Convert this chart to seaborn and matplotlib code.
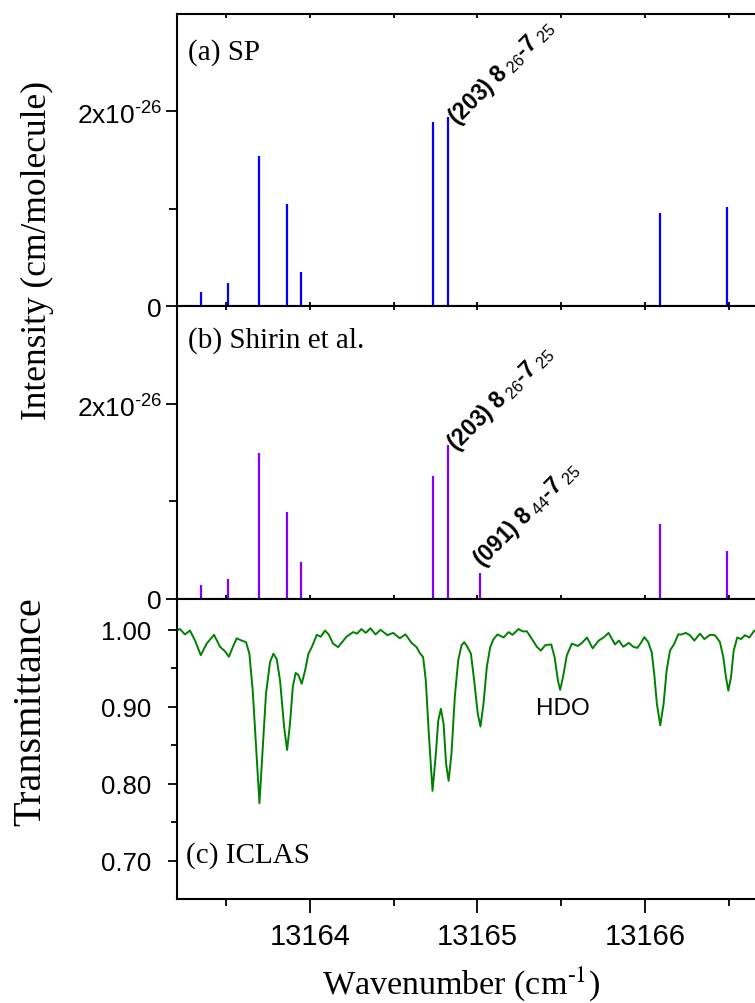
import numpy as np
import pandas as pd
import matplotlib
matplotlib.use("Agg")
import matplotlib.pyplot as plt
import seaborn as sns
from matplotlib.ticker import FixedLocator, FixedFormatter, MultipleLocator, FormatStrFormatter

# ---------------- data ----------------
# (a) SP calculated line list (intensity in units of 1e-26 cm/molecule)
sp_pos = [13163.350, 13163.510, 13163.700, 13163.865, 13163.950,
          13164.736, 13164.827, 13165.014, 13166.088, 13166.490]
sp_int = [0.144, 0.237, 1.544, 1.053, 0.350, 1.894, 1.945, 0.010, 0.963, 1.019]

# (b) Shirin et al. line list
sh_pos = [13163.350, 13163.510, 13163.700, 13163.865, 13163.950,
          13164.736, 13164.827, 13165.014, 13166.088, 13166.490]
sh_int = [0.140, 0.210, 1.496, 0.893, 0.384, 1.257, 1.578, 0.271, 0.770, 0.487]

# (c) ICLAS transmittance spectrum
iclas_wn = [13163.206, 13163.226, 13163.256, 13163.286, 13163.316, 13163.350, 13163.385,
            13163.429, 13163.465, 13163.495, 13163.518, 13163.541, 13163.564, 13163.594,
            13163.620, 13163.640, 13163.660, 13163.680, 13163.700, 13163.720, 13163.739,
            13163.763, 13163.783, 13163.803, 13163.823, 13163.847, 13163.865, 13163.882,
            13163.899, 13163.916, 13163.933, 13163.952, 13163.972, 13163.992, 13164.012,
            13164.042, 13164.066, 13164.091, 13164.113, 13164.139, 13164.169, 13164.193,
            13164.219, 13164.258, 13164.282, 13164.308, 13164.334, 13164.362, 13164.392,
            13164.422, 13164.464, 13164.497, 13164.537, 13164.571, 13164.607, 13164.637,
            13164.656, 13164.676, 13164.692, 13164.710, 13164.732, 13164.752, 13164.766,
            13164.782, 13164.798, 13164.813, 13164.828, 13164.845, 13164.865, 13164.885,
            13164.905, 13164.921, 13164.941, 13164.961, 13164.980, 13165.002, 13165.018,
            13165.036, 13165.056, 13165.076, 13165.096, 13165.120, 13165.156, 13165.186,
            13165.209, 13165.245, 13165.269, 13165.295, 13165.325, 13165.354, 13165.378,
            13165.404, 13165.440, 13165.460, 13165.480, 13165.493, 13165.510, 13165.533,
            13165.563, 13165.599, 13165.623, 13165.653, 13165.687, 13165.723, 13165.752,
            13165.782, 13165.802, 13165.820, 13165.844, 13165.869, 13165.903, 13165.929,
            13165.953, 13165.975, 13165.995, 13166.018, 13166.039, 13166.054, 13166.070,
            13166.090, 13166.110, 13166.128, 13166.148, 13166.174, 13166.197, 13166.218,
            13166.242, 13166.267, 13166.293, 13166.327, 13166.353, 13166.387, 13166.416,
            13166.446, 13166.466, 13166.482, 13166.496, 13166.512, 13166.528, 13166.549,
            13166.572, 13166.595, 13166.621, 13166.651]
iclas_tr = [0.999, 1.001, 0.994, 0.999, 0.986, 0.967, 0.982,
            0.9935, 0.978, 0.972, 0.965, 0.9775, 0.989, 0.986,
            0.984, 0.969, 0.921, 0.848, 0.775, 0.848, 0.917,
            0.958, 0.969, 0.962, 0.934, 0.874, 0.844, 0.878,
            0.926, 0.944, 0.941, 0.930, 0.947, 0.969, 0.9775,
            0.9935, 0.991, 0.999, 0.994, 0.982, 0.9775, 0.984,
            0.991, 0.997, 0.995, 1.001, 0.996, 1.002, 0.994,
            1.000, 0.993, 0.996, 0.989, 0.994, 0.983, 0.9775,
            0.970, 0.9645, 0.934, 0.865, 0.791, 0.839, 0.882,
            0.8975, 0.878, 0.826, 0.804, 0.839, 0.913, 0.960,
            0.980, 0.984, 0.9775, 0.969, 0.935, 0.891, 0.8745,
            0.904, 0.952, 0.9775, 0.988, 0.994, 0.990, 0.997,
            0.9935, 1.001, 0.998, 0.998, 0.988, 0.978, 0.973,
            0.980, 0.981, 0.9645, 0.934, 0.922, 0.9385, 0.967,
            0.982, 0.979, 0.983, 0.990, 0.976, 0.986, 0.990,
            0.996, 0.988, 0.981, 0.986, 0.978, 0.983, 0.978,
            0.9765, 0.983, 0.9905, 0.984, 0.971, 0.943, 0.904,
            0.876, 0.904, 0.947, 0.973, 0.982, 0.994, 0.994,
            0.996, 0.993, 0.986, 0.995, 0.988, 0.9935, 0.993,
            0.984, 0.9645, 0.9385, 0.921, 0.9385, 0.973, 0.990,
            0.988, 0.993, 0.990, 0.999]

xlim = (13163.21, 13166.80)
int_ylim = (0, 3)
int_major = [0, 2]
int_labels = ["0", r"2x10$^{\text{-}26}$"]
tr_ylim = (0.65, 1.04)

# ---------------- style ----------------
sns.set_style("ticks")
plt.rcParams["font.family"] = ["Liberation Sans", "DejaVu Sans"]
plt.rcParams["mathtext.fontset"] = "custom"
plt.rcParams["mathtext.rm"] = "Liberation Sans"
plt.rcParams["mathtext.bf"] = "Liberation Sans:bold"
plt.rcParams["axes.linewidth"] = 1.5
plt.rcParams["axes.edgecolor"] = "black"
plt.rcParams["text.color"] = "black"
plt.rcParams["xtick.color"] = "black"
plt.rcParams["ytick.color"] = "black"
plt.rcParams["axes.labelcolor"] = "black"
plt.rcParams["axes.unicode_minus"] = False

SERIF = "Liberation Serif"
fig = plt.figure(figsize=(7.55, 10.04), dpi=100)
left, width = 0.2348, 0.7974
ax_a = fig.add_axes([left, 0.6939, width, 0.2911])
ax_b = fig.add_axes([left, 0.4024, width, 0.2915])
ax_c = fig.add_axes([left, 0.1031, width, 0.2993])

for ax in (ax_a, ax_b, ax_c):
    ax.set_xlim(*xlim)
    ax.xaxis.set_major_locator(MultipleLocator(1))
    ax.xaxis.set_minor_locator(MultipleLocator(0.5))
    for s in ax.spines.values():
        s.set_linewidth(1.5)
        s.set_color("black")
    ax.set_facecolor("white")

df_a = pd.DataFrame({"wn": sp_pos, "I": sp_int})
df_b = pd.DataFrame({"wn": sh_pos, "I": sh_int})
df_c = pd.DataFrame({"wn": iclas_wn, "T": iclas_tr})

ax_a.vlines(df_a["wn"], 0, df_a["I"], color="#0000FF", lw=1.6)
ax_b.vlines(df_b["wn"], 0, df_b["I"], color="#8000FF", lw=1.6)
sns.lineplot(data=df_c, x="wn", y="T", ax=ax_c, color="#008000", lw=1.4, sort=False)
for ln in ax_c.lines:
    ln.set_solid_joinstyle("round")

for ax in (ax_a, ax_b):
    ax.set_ylim(*int_ylim)
    ax.yaxis.set_major_locator(FixedLocator(int_major))
    ax.yaxis.set_major_formatter(FixedFormatter(int_labels))
    ax.yaxis.set_minor_locator(FixedLocator([1]))
    ax.tick_params(axis="y", which="major", direction="out", length=8, width=1.3,
                   labelsize=19, pad=3)
    ax.tick_params(axis="y", which="minor", direction="out", length=5.5, width=1.3)
    ax.tick_params(axis="x", which="both", direction="in", top=True, bottom=True,
                   labelbottom=False, length=3, width=1.3)
    ax.set_xlabel("")
    ax.set_ylabel("")

ax_c.set_ylim(*tr_ylim)
ax_c.yaxis.set_major_locator(FixedLocator([0.70, 0.80, 0.90, 1.00]))
ax_c.yaxis.set_major_formatter(FormatStrFormatter("%.2f"))
ax_c.yaxis.set_minor_locator(FixedLocator([0.75, 0.85, 0.95]))
ax_c.xaxis.set_major_formatter(FormatStrFormatter("%d"))
ax_c.tick_params(axis="y", which="major", direction="out", length=6.5, width=1.3,
                 labelsize=18.5, pad=12)
ax_c.tick_params(axis="y", which="minor", direction="out", length=4.5, width=1.3)
ax_c.tick_params(axis="x", which="major", direction="out", length=10, width=1.3,
                 labelsize=21, pad=6)
ax_c.tick_params(axis="x", which="minor", direction="out", length=5, width=1.3)
ax_c.set_xlabel("")
ax_c.set_ylabel("")

# panel labels
ax_a.text(0.018, 0.873, "(a) SP", transform=ax_a.transAxes, family=SERIF,
          fontsize=21, ha="left", va="center")
ax_b.text(0.018, 0.885, "(b) Shirin et al.", transform=ax_b.transAxes, family=SERIF,
          fontsize=21, ha="left", va="center")
ax_c.text(0.015, 0.15, "(c) ICLAS", transform=ax_c.transAxes, family=SERIF,
          fontsize=21, ha="left", va="center")

# line assignments
lab203 = r"(203) 8$\,_{26}$-7$\,_{25}$"
lab091 = r"(091) 8$\,_{44}$-7$\,_{25}$"
ax_a.text(13164.88, 1.86, lab203, rotation=45, rotation_mode="anchor",
          ha="left", va="baseline", fontsize=16.5, fontweight="bold")
ax_b.text(13164.875, 1.52, lab203, rotation=45, rotation_mode="anchor",
          ha="left", va="baseline", fontsize=16.5, fontweight="bold")
ax_b.text(13165.03, 0.33, lab091, rotation=45, rotation_mode="anchor",
          ha="left", va="baseline", fontsize=16.5, fontweight="bold")
ax_c.text(13165.51, 0.899, "HDO", fontsize=17.5, ha="center", va="center")

# axis titles
fig.text(37.6 / 755, 1 - 250 / 1004, "Intensity (cm/molecule)", rotation=90,
         family=SERIF, fontsize=25.5, ha="center", va="center")
fig.text(31 / 755, 1 - 712 / 1004, "Transmittance", rotation=90,
         family=SERIF, fontsize=29, ha="center", va="center")
fig.text(461 / 755, 1 - 984 / 1004, r"Wavenumber (cm$^{\text{-}1}$)", family=SERIF,
         fontsize=24.5, ha="center", va="center", math_fontfamily="stix")

fig.savefig("out.png", dpi=100, facecolor="white")
